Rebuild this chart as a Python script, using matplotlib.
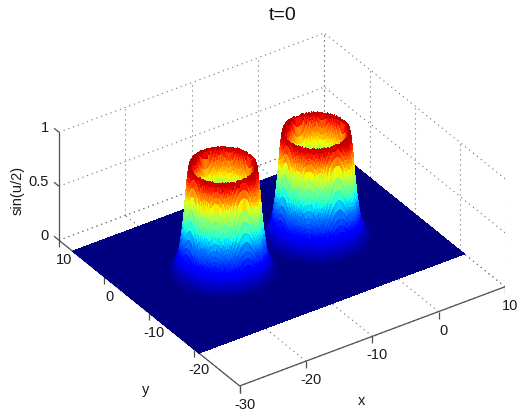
import numpy as np
import matplotlib
matplotlib.use("Agg")
import matplotlib.pyplot as plt
from mpl_toolkits.mplot3d import proj3d

plt.rcParams['font.family'] = ['Liberation Sans', 'DejaVu Sans']

# --- values ---
title = "t=0"
x_label, y_label, z_label = "x", "y", "sin(u/2)"
x_ticks = [-30, -20, -10, 0, 10]
y_ticks = [-20, -10, 0, 10]
z_ticks = [0, 0.5, 1]
z_tick_labels = ["0", "0.5", "1"]
x_limits = (-30, 10)
y_limits = (-30, 10)
z_limits = (0, 1)
# extent of the sheet on the floor
sheet_x = (-30, 10)
sheet_y = (-21, 7)
# centres of the two raised rings
ring_centre_x = [-17.2, -3.2]
ring_centre_y = [-7.5, -7.6]
profile_r = [0.0, 1.5, 2.6, 2.95, 3.3, 3.6, 3.9, 4.05, 4.15, 4.3, 4.55, 4.85, 5.15, 5.45, 5.75, 6.05, 6.45, 7.05, 8.0]
profile_z = [0.0, 0.02, 0.08, 0.2, 0.44, 0.68, 0.84, 0.96, 1.0, 0.96, 0.81, 0.55, 0.356, 0.217, 0.13, 0.078, 0.036, 0.012, 0.0]
# colour level seen at each wall height
colour_height = [0.0, 0.2, 0.36, 0.56, 0.68, 0.76, 0.85, 0.9, 1.0]
colour_level = [0.0, 0.13, 0.25, 0.47, 0.59, 0.70, 0.80, 0.875, 0.96]

W, H = 524, 417
fig = plt.figure(figsize=(W / 100, H / 100), dpi=100, facecolor='white')
ax = fig.add_axes([0, 0, 1, 1], projection='3d', proj_type='ortho', computed_zorder=False)
ax.set_xlim(*x_limits, view_margin=0)
ax.set_ylim(*y_limits, view_margin=0)
ax.set_zlim(*z_limits, view_margin=0)
ax.autoscale(False)
ax.set_box_aspect((321, 321, 129.2))
ax.view_init(elev=33.3, azim=-124.25)
ax.set_axis_off()


def to_pixels(x, y, z):
    X, Y, _ = proj3d.proj_transform(x, y, z, ax.get_proj())
    return ax.transData.transform((X, Y))


# place the axes so the box corners land where they are in the reference
target_a = np.array([59.0, H - 240.0])
target_b = np.array([505.0, H - 287.0])
for _ in range(4):
    ax.apply_aspect()
    a = to_pixels(x_limits[0], y_limits[1], 0)
    b = to_pixels(x_limits[1], y_limits[0], 0)
    k = np.linalg.norm(target_b - target_a) / np.linalg.norm(b - a)
    pos = ax.get_position(original=True)
    cx, cy = (pos.x0 + pos.x1) / 2, (pos.y0 + pos.y1) / 2
    w, h = pos.width * k, pos.height * k
    mid_now = (a + b) / 2
    cent = np.array([cx * W, cy * H])
    mid_new = cent + (mid_now - cent) * k
    shift = (target_a + target_b) / 2 - mid_new
    ax.set_position([cx - w / 2 + shift[0] / W, cy - h / 2 + shift[1] / H, w, h])
ax.apply_aspect()

grid_style = dict(color='#707070', lw=0.8, ls=(0, (1, 3.5)), zorder=1)
axis_style = dict(color='#505050', lw=0.9, zorder=1, solid_capstyle='butt')
x0, x1 = x_limits
y0, y1 = y_limits
z0, z1 = z_limits
grid_x = [t for t in x_ticks]
grid_y = y_ticks + [y0]

# dotted grid: floor, left back wall (y = y1), right back wall (x = x1)
for t in grid_x:
    ax.plot([t, t], [y0, y1], [z0, z0], **grid_style)
    ax.plot([t, t], [y1, y1], [z0, z1], **grid_style)
for t in grid_y:
    ax.plot([x0, x1], [t, t], [z0, z0], **grid_style)
    ax.plot([x1, x1], [t, t], [z0, z1], **grid_style)
for t in z_ticks:
    ax.plot([x0, x1], [y1, y1], [t, t], **grid_style)
    ax.plot([x1, x1], [y0, y1], [t, t], **grid_style)

# solid axis lines
ax.plot([x0, x1], [y0, y0], [z0, z0], **axis_style)
ax.plot([x0, x0], [y0, y1], [z0, z0], **axis_style)
ax.plot([x0, x0], [y1, y1], [z0, z1], **axis_style)
tick_drop = 0.065
tick_out = 1.1
for t in x_ticks:
    ax.plot([t, t], [y0, y0], [z0, z0 - tick_drop], **axis_style)
for t in [y0] + y_ticks:
    ax.plot([x0, x0], [t, t], [z0, z0 - tick_drop], **axis_style)
for t in z_ticks:
    ax.plot([x0, x0], [y1, y1 + tick_out], [t, t], **axis_style)

# surface
xs = np.arange(sheet_x[0], sheet_x[1] + 0.01, 0.125)
ys = np.arange(sheet_y[0], sheet_y[1] + 0.01, 0.125)
XX, YY = np.meshgrid(xs, ys)
ZZ = np.zeros_like(XX)
for cx_, cy_ in zip(ring_centre_x, ring_centre_y):
    dist = np.hypot(XX - cx_, YY - cy_)
    ZZ = np.maximum(ZZ, np.interp(dist, profile_r, profile_z))
jet64 = plt.get_cmap('jet', 64)
cell_colours = jet64(np.interp(ZZ, colour_height, colour_level))
ax.plot_surface(XX, YY, ZZ, rstride=1, cstride=1, facecolors=cell_colours,
                linewidth=0, antialiased=False, shade=False, zorder=2)

# text
def label_at(txt, p, dx, dy, ha='center'):
    ax.annotate(txt, xy=tuple(ax.transData.inverted().transform(p)), xycoords='data',
                xytext=(dx, dy), textcoords='offset pixels', ha=ha, va='center',
                fontsize=10.5, color='#1a1a1a', annotation_clip=False)


for t in x_ticks:
    label_at(str(t), to_pixels(t, y0, z0), 5, -19)
for t in [y0 + 10, -10, 0, 10]:
    label_at(str(t), to_pixels(x0, t, z0), 5, -20)
for t, s in zip(z_ticks, z_tick_labels):
    label_at(s, to_pixels(x0, y1, t), -10, 4, ha='right')

fig.text(283 / W, 1 - 16 / H, title, ha='center', va='center', fontsize=14, color='#111111')
fig.text(362 / W, 1 - 401 / H, x_label, ha='center', va='center', fontsize=10.5, color='#1a1a1a')
fig.text(146 / W, 1 - 390 / H, y_label, ha='center', va='center', fontsize=10.5, color='#1a1a1a')
fig.text(18 / W, 1 - 190 / H, z_label, ha='center', va='center', rotation=90, fontsize=10.5, color='#1a1a1a')

fig.savefig('out.png', dpi=100)
